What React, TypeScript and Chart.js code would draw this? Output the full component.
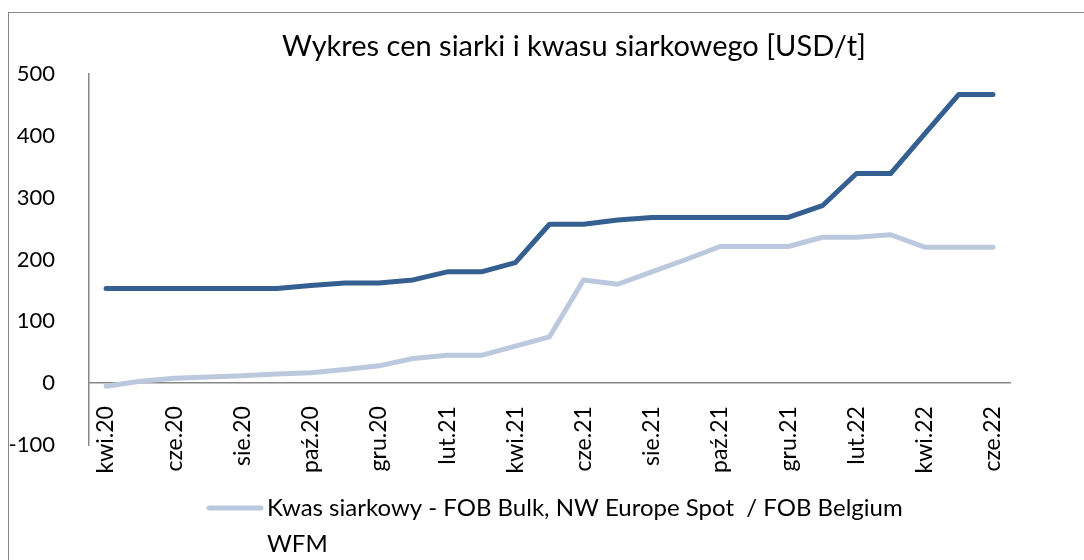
import React, { useEffect, useRef } from "react";
import { Chart, registerables } from "chart.js";

Chart.register(...registerables);

const months = [
  "kwi.20", "maj.20", "cze.20", "lip.20", "sie.20", "wrz.20", "paź.20", "lis.20", "gru.20",
  "sty.21", "lut.21", "mar.21", "kwi.21", "maj.21", "cze.21", "lip.21", "sie.21", "wrz.21",
  "paź.21", "lis.21", "gru.21", "sty.22", "lut.22", "mar.22", "kwi.22", "maj.22", "cze.22",
];

const siarka = [
  153, 153, 153, 153, 153, 153, 158, 162, 162,
  167, 180, 180, 195, 257, 257, 264, 268, 268,
  268, 268, 268, 287, 339, 339, 403, 467, 467,
];

const kwas = [
  -5, 3, 8, 10, 12, 15, 17, 22, 28,
  40, 45, 45, 60, 75, 167, 160, 180, 200,
  221, 221, 221, 236, 236, 240, 220, 220, 220,
];

const yTicks = [-100, 0, 100, 200, 300, 400, 500];

const titleText = "Wykres cen siarki i kwasu siarkowego [USD/t]";
const kwasLabel = "Kwas siarkowy - FOB Bulk, NW Europe Spot  / FOB Belgium WFM";
const siarkaLabel = "Siarka";

const FONT = "Lato, 'Noto Sans', sans-serif";
const DARK = "#365F91";
const LIGHT = "#BCC8DE";
const AXIS = "#878787";

const framePlugin = {
  id: "frame",
  beforeDraw(chart: any) {
    const ctx = chart.ctx;
    ctx.save();
    ctx.fillStyle = "#ffffff";
    ctx.fillRect(0, 0, chart.width, chart.height);
    ctx.strokeStyle = AXIS;
    ctx.lineWidth = 1;
    ctx.strokeRect(8.5, 12.5, 3000, 3000);
    ctx.restore();
  },
};

const legendPlugin = {
  id: "customLegend",
  afterDraw(chart: any) {
    const ctx = chart.ctx;
    const ds = chart.data.datasets[0];
    ctx.save();
    ctx.strokeStyle = ds.borderColor;
    ctx.lineWidth = 5;
    ctx.lineCap = "round";
    ctx.beginPath();
    ctx.moveTo(209, 508);
    ctx.lineTo(261, 508);
    ctx.stroke();
    ctx.fillStyle = "#000";
    ctx.font = `24px ${FONT}`;
    ctx.textBaseline = "middle";
    ctx.textAlign = "left";
    const words = String(ds.label).split(" ");
    const lines: string[] = [];
    let cur = "";
    const maxW = 660;
    for (const w of words) {
      const test = cur === "" ? w : cur + " " + w;
      if (ctx.measureText(test).width > maxW && cur !== "") {
        lines.push(cur);
        cur = w;
      } else {
        cur = test;
      }
    }
    if (cur) lines.push(cur);
    lines.forEach((l, i) => ctx.fillText(l, 267, 508 + i * 36));
    ctx.restore();
  },
};

export default function App() {
  const ref = useRef<HTMLCanvasElement | null>(null);
  useEffect(() => {
    if (!ref.current) return;
    const chart = new Chart(ref.current, {
      type: "line",
      data: {
        labels: months,
        datasets: [
          {
            label: kwasLabel,
            data: kwas,
            borderColor: LIGHT,
            backgroundColor: LIGHT,
            borderWidth: 5,
            pointRadius: 0,
            tension: 0,
            borderCapStyle: "round",
            borderJoinStyle: "round",
          },
          {
            label: siarkaLabel,
            data: siarka,
            borderColor: DARK,
            backgroundColor: DARK,
            borderWidth: 5,
            pointRadius: 0,
            tension: 0,
            borderCapStyle: "round",
            borderJoinStyle: "round",
          },
        ],
      },
      options: {
        responsive: false,
        animation: false,
        layout: { padding: { left: 0, right: -64, top: 0, bottom: 115 } },
        plugins: {
          legend: { display: false },
          tooltip: { enabled: false },
          title: {
            display: true,
            text: titleText,
            color: "#000",
            font: { family: FONT, size: 29, weight: "normal", lineHeight: 1.2 },
            padding: { top: 29, bottom: 10.2 },
          },
        },
        scales: {
          x: {
            type: "category",
            offset: true,
            position: { y: 0 } as any,
            grid: { display: false },
            border: { display: true, color: AXIS, width: 1.5 },
            ticks: {
              autoSkip: false,
              minRotation: 90,
              maxRotation: 90,
              padding: 15,
              color: "#000",
              font: { family: FONT, size: 23 },
              callback: (_v: any, i: number) => (i % 2 === 0 ? months[i] : ""),
            },
          },
          y: {
            type: "linear",
            position: "left",
            min: -100,
            max: 500,
            afterFit: (s: any) => {
              s.width = 89;
            },
            afterBuildTicks: (s: any) => {
              s.ticks = yTicks.map((v) => ({ value: v }));
            },
            grid: { display: false },
            border: { display: true, color: AXIS, width: 1.5 },
            ticks: {
              padding: 26,
              color: "#000",
              font: { family: FONT, size: 22 },
            },
          },
          y2: {
            type: "linear",
            position: "right",
            afterFit: (s: any) => {
              s.width = 138;
            },
            grid: { display: false },
            border: { display: false },
            ticks: { display: false },
          },
        },
      },
      plugins: [framePlugin, legendPlugin],
    });
    return () => chart.destroy();
  }, []);
  return (
    <div style={{ position: "fixed", left: 0, top: 0, width: 1084, height: 560, background: "#fff" }}>
      <canvas ref={ref} width={1084} height={560} style={{ display: "block" }} />
    </div>
  );
}
